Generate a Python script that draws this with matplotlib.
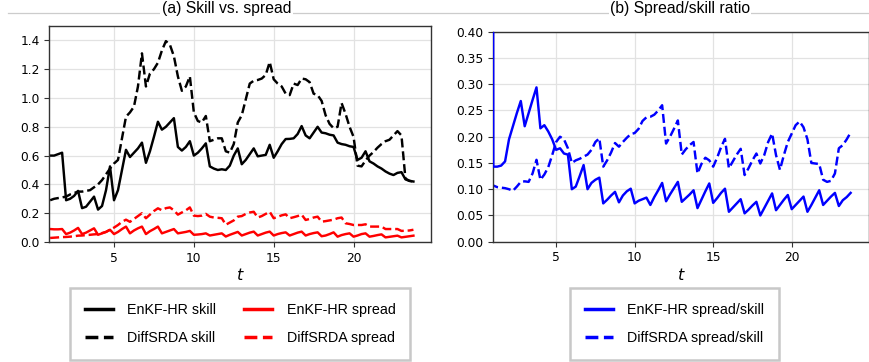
import numpy as np
import matplotlib.pyplot as plt
from matplotlib.lines import Line2D

# lead time in days, 6-hourly
t = np.arange(1, 23.76, 0.25)

enkf_skill = [
    0.60, 0.60, 0.61, 0.62,
    0.29, 0.30, 0.32, 0.355,
    0.235, 0.245, 0.28, 0.315,
    0.225, 0.25, 0.36, 0.525,
    0.29, 0.36, 0.50, 0.64,
    0.59, 0.62, 0.65, 0.69,
    0.55, 0.63, 0.73, 0.835,
    0.78, 0.80, 0.83, 0.86,
    0.66, 0.635, 0.66, 0.70,
    0.60, 0.62, 0.65, 0.685,
    0.525, 0.51, 0.50, 0.505,
    0.50, 0.53, 0.60, 0.65,
    0.54, 0.57, 0.61, 0.65,
    0.595, 0.60, 0.605, 0.675,
    0.585, 0.63, 0.68, 0.715,
    0.716, 0.72, 0.75, 0.805,
    0.74, 0.72, 0.76, 0.80,
    0.76, 0.755, 0.745, 0.74,
    0.69, 0.68, 0.675, 0.665,
    0.66, 0.57, 0.585, 0.63,
    0.56, 0.545, 0.525, 0.51,
    0.49, 0.475, 0.465, 0.48,
    0.485, 0.435, 0.424, 0.42,
]
diff_skill = [
    0.29, 0.30, 0.305, 0.31,
    0.315, 0.33, 0.34, 0.35,
    0.35, 0.355, 0.36, 0.38,
    0.40, 0.43, 0.47, 0.51,
    0.545, 0.57, 0.72, 0.87,
    0.90, 0.94, 1.08, 1.31,
    1.08, 1.17, 1.20, 1.245,
    1.33, 1.395, 1.37, 1.29,
    1.15, 1.05, 1.08, 1.15,
    0.90, 0.84, 0.83, 0.875,
    0.70, 0.71, 0.72, 0.72,
    0.63, 0.62, 0.68, 0.83,
    0.88, 0.99, 1.10, 1.12,
    1.125, 1.135, 1.16, 1.25,
    1.13, 1.10, 1.08, 1.03,
    1.02, 1.10, 1.09, 1.135,
    1.13, 1.11, 1.03, 1.02,
    0.98, 0.88, 0.82, 0.79,
    0.80, 0.965, 0.89, 0.80,
    0.73, 0.53, 0.525, 0.565,
    0.60, 0.625, 0.655, 0.68,
    0.70, 0.71, 0.74, 0.77,
    0.74, 0.44, 0.425, 0.42,
]
enkf_spread = [
    0.09, 0.088, 0.088, 0.09,
    0.055, 0.065, 0.08, 0.098,
    0.055, 0.065, 0.08, 0.095,
    0.05, 0.06, 0.07, 0.085,
    0.055, 0.07, 0.09, 0.107,
    0.06, 0.08, 0.095, 0.107,
    0.055, 0.075, 0.09, 0.107,
    0.06, 0.07, 0.08, 0.09,
    0.06, 0.065, 0.07, 0.077,
    0.05, 0.052, 0.055, 0.06,
    0.045, 0.05, 0.055, 0.06,
    0.038, 0.05, 0.06, 0.07,
    0.045, 0.055, 0.065, 0.072,
    0.045, 0.055, 0.065, 0.072,
    0.045, 0.055, 0.062, 0.067,
    0.045, 0.055, 0.065, 0.072,
    0.045, 0.055, 0.062, 0.067,
    0.04, 0.045, 0.055, 0.067,
    0.037, 0.048, 0.055, 0.06,
    0.037, 0.045, 0.055, 0.06,
    0.037, 0.042, 0.048, 0.053,
    0.032, 0.036, 0.04, 0.044,
    0.032, 0.036, 0.04, 0.044,
]
diff_spread = [
    0.028, 0.03, 0.032, 0.034,
    0.035, 0.037, 0.04, 0.044,
    0.045, 0.048, 0.05, 0.053,
    0.055, 0.062, 0.07, 0.085,
    0.10, 0.118, 0.14, 0.155,
    0.14, 0.16, 0.18, 0.20,
    0.165, 0.19, 0.215, 0.234,
    0.22, 0.235, 0.24, 0.22,
    0.19, 0.205, 0.22, 0.24,
    0.183, 0.18, 0.183, 0.195,
    0.176, 0.17, 0.168, 0.165,
    0.12, 0.135, 0.15, 0.176,
    0.18, 0.195, 0.205, 0.21,
    0.17, 0.18, 0.195, 0.21,
    0.165, 0.175, 0.185, 0.192,
    0.165, 0.172, 0.18, 0.19,
    0.153, 0.16, 0.17, 0.176,
    0.141, 0.145, 0.15, 0.155,
    0.165, 0.17, 0.13, 0.125,
    0.118, 0.118, 0.118, 0.123,
    0.107, 0.107, 0.107, 0.107,
    0.09, 0.09, 0.09, 0.09,
    0.077, 0.078, 0.08, 0.085,
]

# ratio series carry one extra earlier sample (t = 0.75)
t_ratio = np.concatenate([[0.75], t])
enkf_ratio = [
    8.0,
    0.143, 0.143, 0.145, 0.153,
    0.195, 0.22, 0.245, 0.268,
    0.22, 0.245, 0.27, 0.294,
    0.216, 0.222, 0.21, 0.195,
    0.175, 0.178, 0.168, 0.166,
    0.10, 0.105, 0.125, 0.146,
    0.10, 0.112, 0.118, 0.122,
    0.073, 0.08, 0.088, 0.095,
    0.075, 0.088, 0.096, 0.101,
    0.073, 0.078, 0.081, 0.084,
    0.07, 0.085, 0.098, 0.112,
    0.077, 0.09, 0.102, 0.114,
    0.076, 0.083, 0.09, 0.098,
    0.064, 0.08, 0.096, 0.111,
    0.074, 0.083, 0.093, 0.101,
    0.057, 0.065, 0.073, 0.081,
    0.054, 0.061, 0.069, 0.076,
    0.05, 0.064, 0.078, 0.092,
    0.06, 0.07, 0.08, 0.089,
    0.062, 0.07, 0.078, 0.086,
    0.057, 0.07, 0.084, 0.098,
    0.07, 0.078, 0.086, 0.093,
    0.068, 0.079, 0.085, 0.093,
]
diff_ratio = [
    0.108,
    0.107, 0.104, 0.103, 0.102,
    0.10, 0.097, 0.105, 0.114,
    0.115, 0.114, 0.13, 0.156,
    0.118, 0.128, 0.142, 0.165,
    0.19, 0.20, 0.195, 0.178,
    0.15, 0.155, 0.158, 0.162,
    0.166, 0.175, 0.19, 0.197,
    0.143, 0.155, 0.17, 0.188,
    0.181, 0.19, 0.198, 0.205,
    0.207, 0.215, 0.23, 0.237,
    0.238, 0.242, 0.25, 0.26,
    0.187, 0.20, 0.215, 0.231,
    0.166, 0.176, 0.184, 0.19,
    0.13, 0.148, 0.16, 0.155,
    0.143, 0.16, 0.18, 0.196,
    0.14, 0.153, 0.166, 0.177,
    0.127, 0.14, 0.155, 0.168,
    0.149, 0.165, 0.19, 0.206,
    0.165, 0.137, 0.165, 0.19,
    0.206, 0.222, 0.229, 0.218,
    0.195, 0.15, 0.149, 0.148,
    0.118, 0.114, 0.116, 0.13,
    0.178, 0.184, 0.195, 0.208,
]

lw = 1.75
fig = plt.figure(figsize=(8.7, 3.62), dpi=100)
ax1 = fig.add_axes([0.0567, 0.3315, 0.4387, 0.5967])
ax2 = fig.add_axes([0.567, 0.3323, 0.4315, 0.580])

ax1.plot(t, enkf_skill, color='k', ls='-', lw=lw)
ax1.plot(t, diff_skill, color='k', ls='--', lw=lw)
ax1.plot(t, enkf_spread, color='red', ls='-', lw=lw)
ax1.plot(t, diff_spread, color='red', ls='--', lw=lw)
ax1.set_xlim(0.95, 24.85)
ax1.set_ylim(0, 1.5)
ax1.set_yticks(np.arange(0, 1.41, 0.2))

ax2.plot(t_ratio, enkf_ratio, color='blue', ls='-', lw=lw, zorder=3)
ax2.plot(t_ratio, diff_ratio, color='blue', ls='--', lw=lw)
ax2.set_xlim(1.0, 24.9)
ax2.set_ylim(0, 0.4)
ax2.set_yticks(np.arange(0, 0.401, 0.05))

for ax in (ax1, ax2):
    ax.set_xticks([5, 10, 15, 20])
    ax.grid(True, color='#e2e2e2', lw=0.9)
    ax.set_axisbelow(True)
    ax.tick_params(labelsize=8.8, length=3.5, width=0.8, color='#333333')
    for s in ax.spines.values():
        s.set_color('#333333')
        s.set_linewidth(1.0)
    ax.set_xlabel('$t$', fontsize=11.5, labelpad=2)

# header rule and panel titles
fig.add_artist(Line2D([8 / 870, 1.0], [1 - 13.3 / 362] * 2, color='#cccccc', lw=0.9))
title_kw = dict(ha='center', va='baseline', fontsize=11.3, family='Liberation Sans',
                bbox=dict(fc='white', ec='none', pad=1))
fig.text(226.5 / 870, 1 - 13.5 / 362, '(a) Skill vs. spread', **title_kw)
fig.text(680 / 870, 1 - 13.5 / 362, '(b) Spread/skill ratio', **title_kw)

hlw = 2.5
left_handles = [
    Line2D([], [], color='k', ls='-', lw=hlw, label='EnKF-HR skill'),
    Line2D([], [], color='k', ls='--', lw=hlw, label='DiffSRDA skill'),
    Line2D([], [], color='red', ls='-', lw=hlw, label='EnKF-HR spread'),
    Line2D([], [], color='red', ls='--', lw=hlw, label='DiffSRDA spread'),
]
right_handles = [
    Line2D([], [], color='blue', ls='-', lw=hlw, label='EnKF-HR spread/skill'),
    Line2D([], [], color='blue', ls='--', lw=hlw, label='DiffSRDA spread/skill'),
]
leg_kw = dict(loc='center', prop={'family': 'Liberation Sans', 'size': 10.3},
              fancybox=False, edgecolor='#c8c8c8', framealpha=1,
              handlelength=2.0, handletextpad=1.0, columnspacing=1.9,
              labelspacing=0.95, borderpad=1.05)
leg1 = fig.legend(handles=left_handles, ncol=2,
                  bbox_to_anchor=(240 / 870, 1 - 324 / 362), **leg_kw)
leg2 = fig.legend(handles=right_handles, ncol=1,
                  bbox_to_anchor=(674.5 / 870, 1 - 324 / 362), **leg_kw)
for leg in (leg1, leg2):
    leg.get_frame().set_linewidth(1.8)

fig.savefig('out.png', dpi=100)
